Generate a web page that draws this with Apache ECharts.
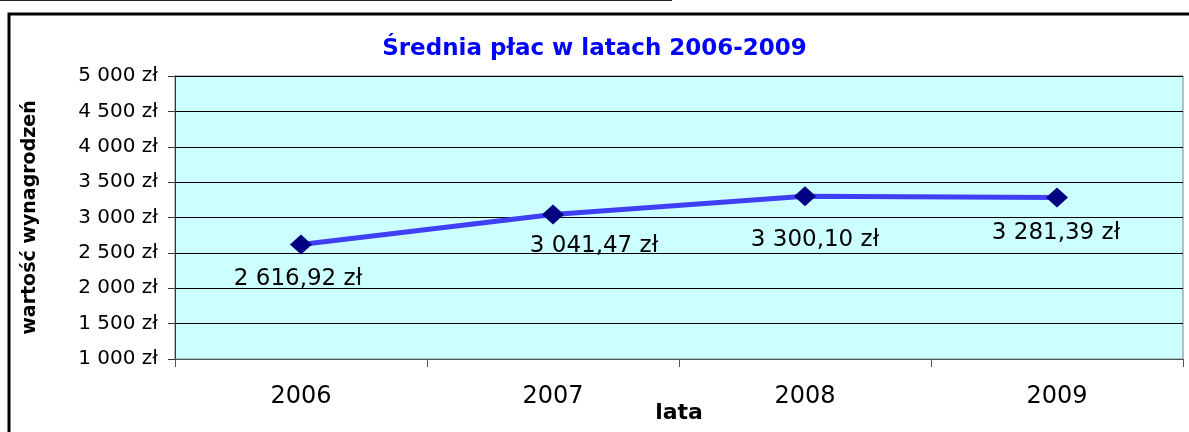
<!DOCTYPE html>
<html>
<head>
<meta charset="utf-8">
<style>
  html, body { margin: 0; padding: 0; background: #ffffff; }
  #chart { width: 1189px; height: 432px; }
</style>
<script src="https://cdn.jsdelivr.net/npm/echarts@6/dist/echarts.min.js"></script>
</head>
<body>
<div id="chart"></div>
<script>
// Average wage per year (PLN)
const years = ['2006', '2007', '2008', '2009'];
const avgWage = [2616.92, 3041.47, 3300.10, 3281.39];
const yTicks = { min: 1000, max: 5000, step: 500 };

// Label placement around each point (pixels, relative to the marker centre)
const labelShift = [[-3, 34], [41, 31], [10, 44], [-1, 35]];

const FONT = 'DejaVu Sans, Liberation Sans, Arial, sans-serif';

function plnFull(v) {
  const parts = v.toFixed(2).split('.');
  const intPart = parts[0].replace(/\B(?=(\d{3})+(?!\d))/g, ' ');
  return intPart + ',' + parts[1] + ' zł';
}
function plnInt(v) {
  return String(Math.round(v)).replace(/\B(?=(\d{3})+(?!\d))/g, ' ') + ' zł';
}

const chart = echarts.init(document.getElementById('chart'), null, { renderer: 'canvas' });

const option = {
  backgroundColor: '#ffffff',
  animation: false,
  title: {
    text: 'Średnia płac w latach 2006-2009',
    left: 'center',
    top: 33,
    textStyle: { color: '#0000FF', fontFamily: FONT, fontWeight: 'bold', fontSize: 23 }
  },
  graphic: [
    { type: 'line', shape: { x1: 0, y1: 0.5, x2: 672, y2: 0.5 },
      style: { stroke: '#222222', lineWidth: 1 }, z: 10 },
    { type: 'rect', shape: { x: 9, y: 14, width: 1200, height: 440 },
      style: { fill: 'none', stroke: '#000000', lineWidth: 3 }, z: 10 }
  ],
  grid: {
    left: 175, right: 6, top: 76, bottom: 73,
    show: true,
    backgroundColor: '#CCFFFF',
    borderColor: '#808080',
    borderWidth: 1,
    containLabel: false,
    outerBoundsMode: 'none'
  },
  xAxis: {
    type: 'category',
    data: years,
    boundaryGap: true,
    name: 'lata',
    nameLocation: 'middle',
    nameGap: 43,
    nameMoveOverlap: false,
    nameTextStyle: { color: '#000', fontFamily: FONT, fontWeight: 'bold', fontSize: 22 },
    axisLine: { show: true, lineStyle: { color: '#555555', width: 1 } },
    axisTick: { show: true, length: 8, alignWithLabel: false, lineStyle: { color: '#555555' } },
    axisLabel: { color: '#000', fontFamily: FONT, fontSize: 24, margin: 26 },
    splitLine: { show: false }
  },
  yAxis: {
    type: 'value',
    min: yTicks.min,
    max: yTicks.max,
    interval: yTicks.step,
    name: 'wartość wynagrodzeń',
    nameLocation: 'middle',
    nameGap: 135,
    nameRotate: 90,
    nameMoveOverlap: false,
    nameTextStyle: { color: '#000', fontFamily: FONT, fontWeight: 'bold', fontSize: 19 },
    axisLine: { show: true, lineStyle: { color: '#333333', width: 1 } },
    axisTick: { show: true, length: 7, lineStyle: { color: '#333333' } },
    axisLabel: { color: '#000', fontFamily: FONT, fontSize: 20, margin: 17, formatter: plnInt },
    splitLine: { show: true, lineStyle: { color: '#000000', width: 1 } }
  },
  series: [{
    type: 'line',
    data: avgWage.map((v, i) => ({
      value: v,
      label: { offset: labelShift[i] }
    })),
    symbol: 'diamond',
    symbolSize: [22, 20],
    showAllSymbol: true,
    lineStyle: { color: '#3F3FF5', width: 5 },
    itemStyle: { color: '#000080', borderWidth: 0 },
    label: {
      show: true,
      position: 'inside',
      color: '#000',
      fontFamily: FONT,
      fontSize: 23,
      formatter: p => plnFull(p.value)
    },
    z: 5
  }]
};

chart.setOption(option);
</script>
</body>
</html>
